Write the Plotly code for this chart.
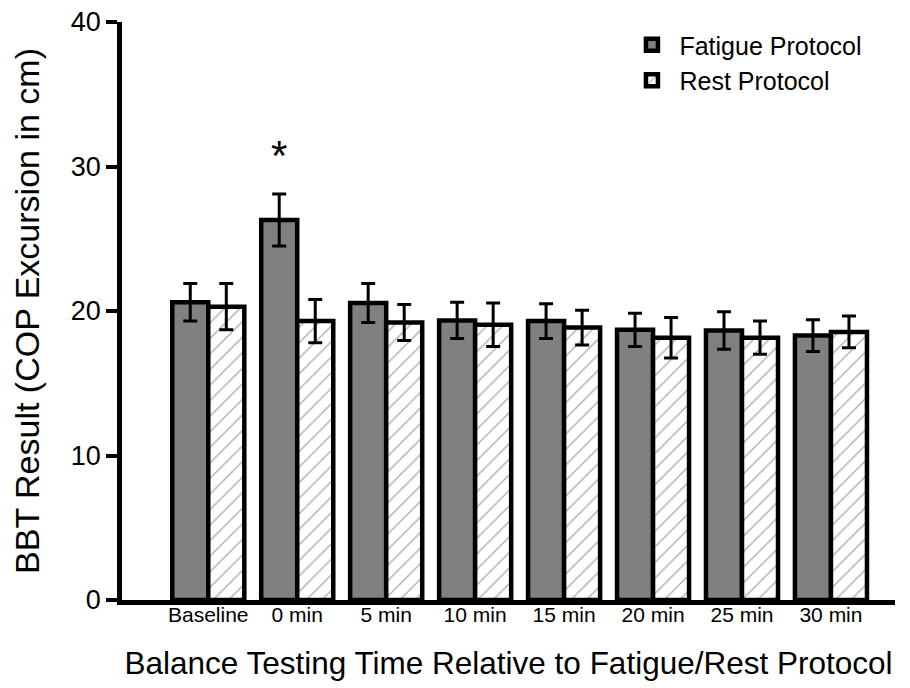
import plotly.graph_objects as go

categories = ["Baseline", "0 min", "5 min", "10 min", "15 min", "20 min", "25 min", "30 min"]
fatigue = [20.6, 26.3, 20.55, 19.35, 19.3, 18.7, 18.65, 18.3]
fatigue_err = [1.3, 1.8, 1.35, 1.25, 1.2, 1.15, 1.3, 1.1]
rest = [20.3, 19.3, 19.2, 19.05, 18.85, 18.15, 18.15, 18.55]
rest_err = [1.6, 1.5, 1.25, 1.5, 1.2, 1.4, 1.15, 1.1]
y_ticks = [0, 10, 20, 30, 40]

xs = list(range(len(categories)))
bargap = 0.19

fig = go.Figure()
fig.add_trace(go.Bar(
    x=xs, y=fatigue, name="Fatigue Protocol",
    marker=dict(color="#808080", line=dict(color="black", width=4.5)),
    error_y=dict(type="data", array=fatigue_err, color="black", thickness=3, width=7),
))
fig.add_trace(go.Bar(
    x=xs, y=rest, name="Rest Protocol",
    marker=dict(color="white", line=dict(color="black", width=4.5),
                pattern=dict(shape="/", fgcolor="#555555", bgcolor="white", size=11, solidity=0.12)),
    error_y=dict(type="data", array=rest_err, color="black", thickness=3, width=7),
))

# significance star above 0 min fatigue bar
star_idx = 1
fig.add_annotation(
    x=xs[star_idx] - (1 - bargap) / 4, y=fatigue[star_idx] + fatigue_err[star_idx],
    xref="x", yref="y", text="*", showarrow=False, yshift=38,
    font=dict(size=42, color="black", family="Liberation Sans"),
)

fig.update_layout(
    width=902, height=680,
    margin=dict(l=114, r=15, t=14, b=86),
    paper_bgcolor="white", plot_bgcolor="white",
    barmode="group", bargap=bargap, bargroupgap=0,
    font=dict(family="Liberation Sans, Arial, sans-serif", color="black"),
    showlegend=True,
    legend=dict(x=0.65, y=1.0, xanchor="left", yanchor="top",
                font=dict(size=25), bgcolor="rgba(0,0,0,0)", tracegroupgap=0,
                itemwidth=45),
)
fig.update_xaxes(
    range=[-0.97, 7.72],
    tickmode="array", tickvals=xs, ticktext=categories,
    tickfont=dict(size=21), ticks="", ticklabelstandoff=-8,
    showline=True, linecolor="black", linewidth=4.5,
    showgrid=False, zeroline=False,
    title=dict(text="Balance Testing Time Relative to Fatigue/Rest Protocol",
               font=dict(size=31.5), standoff=28),
)
fig.update_yaxes(
    range=[0, 40], automargin=False,
    tickmode="array", tickvals=y_ticks, ticklabeloverflow="allow",
    tickfont=dict(size=27), ticks="outside", ticklen=11, tickwidth=3.5, tickcolor="black",
    showline=True, linecolor="black", linewidth=4.5,
    showgrid=False, zeroline=False,
    title=dict(text="BBT Result (COP Excursion in cm)", font=dict(size=34), standoff=22),
)

fig.write_html("out.html")
